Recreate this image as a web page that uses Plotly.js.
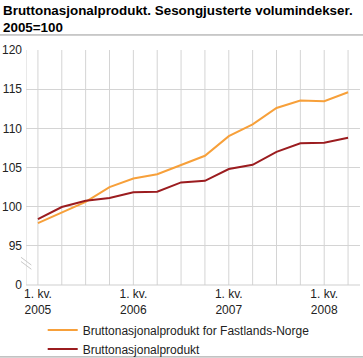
<!DOCTYPE html>
<html><head><meta charset="utf-8">
<script src="https://cdn.plot.ly/plotly-3.0.1.min.js"></script>
<style>html,body{margin:0;padding:0;background:#fff}#c{width:363px;height:358px}</style>
</head><body><div id="c"></div>
<script>
const quarters = ["2005K1","2005K2","2005K3","2005K4","2006K1","2006K2","2006K3","2006K4","2007K1","2007K2","2007K3","2007K4","2008K1","2008K2"];
const fastland = [97.9, 99.3, 100.6, 102.5, 103.6, 104.15, 105.3, 106.5, 109.0, 110.5, 112.6, 113.55, 113.45, 114.6];
const bnp = [98.4, 99.95, 100.75, 101.1, 101.85, 101.9, 103.1, 103.3, 104.8, 105.35, 107.0, 108.1, 108.15, 108.8];
const seriesNames = ["Bruttonasjonalprodukt for Fastlands-Norge", "Bruttonasjonalprodukt"];
const xTickText = ["1. kv.<br>2005", "1. kv.<br>2006", "1. kv.<br>2007", "1. kv.<br>2008"];
const yTickVals = [90, 95, 100, 105, 110, 115, 120];
const yTickText = ["0", "95", "100", "105", "110", "115", "120"];

const xIdx = quarters.map((q, i) => i);
const traces = [
  {x: xIdx, y: fastland, name: seriesNames[0], type: "scatter", mode: "lines",
   line: {color: "#f7a03a", width: 2}, hoverinfo: "skip"},
  {x: xIdx, y: bnp, name: seriesNames[1], type: "scatter", mode: "lines",
   line: {color: "#9b1c1f", width: 2}, hoverinfo: "skip"}
];
const tickPos = quarters.map((q, i) => i).filter(i => quarters[i].endsWith("K1"));
const layout = {
  width: 363, height: 358,
  margin: {l: 26, r: 3, t: 50, b: 73, autoexpand: false},
  paper_bgcolor: "#fff", plot_bgcolor: "#fff",
  font: {family: "Liberation Sans, Arial, sans-serif", size: 12, color: "#222"},
  annotations: [
    {text: "<b>Bruttonasjonalprodukt. Sesongjusterte volumindekser.<br>2005=100</b>",
     xref: "paper", yref: "paper", x: -0.075, y: 1.21, xanchor: "left", yanchor: "top",
     align: "left", showarrow: false, font: {size: 13.4, color: "#000"}}
  ],
  xaxis: {range: [-0.5, 13.5], tickvals: tickPos, ticktext: xTickText, showgrid: false,
          zeroline: false, showline: false, ticks: "", fixedrange: true, tickfont: {size: 12}},
  yaxis: {range: [90, 120], tickvals: yTickVals, ticktext: yTickText, showgrid: true,
          gridcolor: "#d4d4d4", gridwidth: 1, zeroline: false, showline: false, ticks: "",
          ticklabelstandoff: 3, tickfont: {size: 12}},
  showlegend: true,
  legend: {orientation: "v", x: 0.05, y: -0.13, xanchor: "left", yanchor: "top",
           font: {size: 12}, tracegroupgap: 0, itemwidth: 30, bgcolor: "rgba(0,0,0,0)"},
  shapes: [
    ...[-0.5].concat(xIdx).map(v => ({type: "line", xref: "x", yref: "paper", x0: v, x1: v, y0: 0, y1: 1,
        line: {color: "#d4d4d4", width: 1}, layer: "below"})),
    {type: "line", xref: "x", yref: "paper", x0: -0.5, x1: 13.5, y0: 0, y1: 0, line: {color: "#cfcfcf", width: 1}, layer: "below"},
    {type: "line", xref: "paper", yref: "paper", x0: -0.015, x1: 0.016, y0: 0.118, y1: 0.085, line: {color: "#c8c8c8", width: 1}},
    {type: "line", xref: "paper", yref: "paper", x0: -0.015, x1: 0.016, y0: 0.100, y1: 0.067, line: {color: "#c8c8c8", width: 1}},
    {type: "line", xref: "paper", yref: "paper", x0: -0.078, x1: 1.009, y0: 1.064, y1: 1.064, line: {color: "#999", width: 1}},
    {type: "line", xref: "paper", yref: "paper", x0: -0.078, x1: 1.009, y0: -0.306, y1: -0.306, line: {color: "#999", width: 1}}
  ]
};
Plotly.newPlot("c", traces, layout, {displayModeBar: false, staticPlot: true});
</script></body></html>
